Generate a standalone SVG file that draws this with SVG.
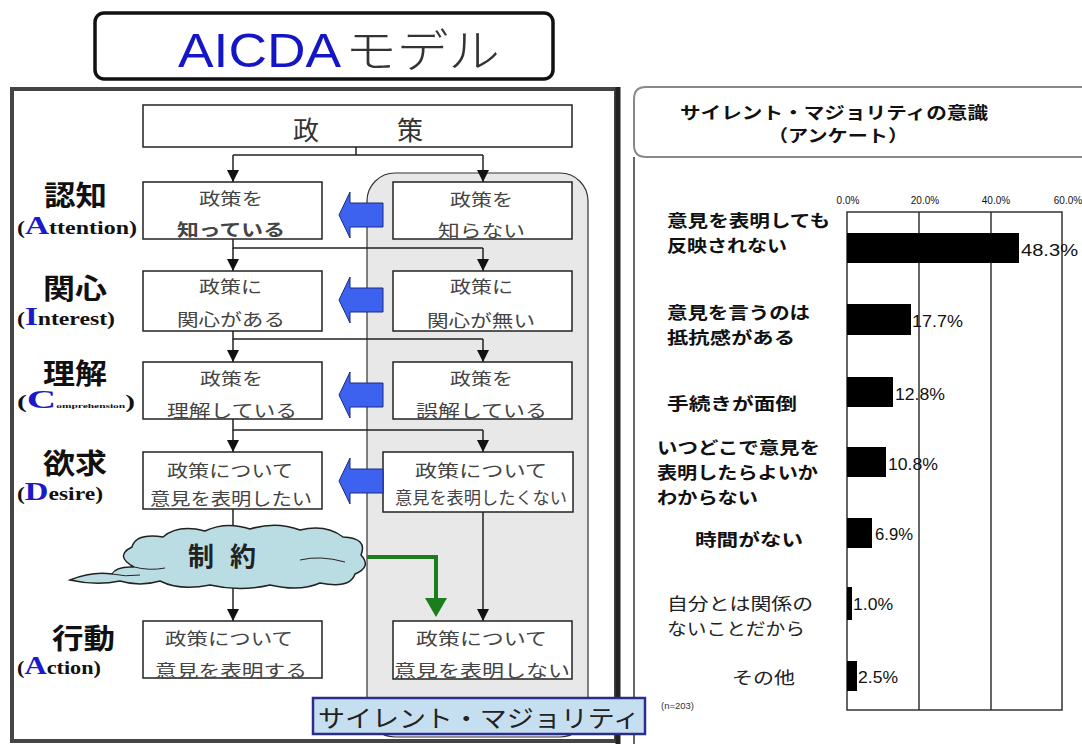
<svg xmlns="http://www.w3.org/2000/svg" width="1082" height="744" viewBox="0 0 1082 744">
<style>
.jp{font-family:"Noto Sans CJK JP",sans-serif}
.bx{fill:#fff;stroke:#222;stroke-width:1.5}
.bt{font-family:"Noto Sans CJK JP",sans-serif;font-size:17px;fill:#444}
.lbl{font-family:"Noto Sans CJK JP",sans-serif;font-size:28px;font-weight:bold;fill:#111}
.en{font-family:"Liberation Serif",serif;font-weight:bold;fill:#111}
.cap{fill:#1a1acc}
.ln{fill:none;stroke:#222;stroke-width:1.5}
.blu{fill:#3d62f0;stroke:#1a2a80;stroke-width:1}
.ct{font-family:"Noto Sans CJK JP",sans-serif;font-size:17px;font-weight:bold;fill:#111}
.cr{font-family:"Noto Sans CJK JP",sans-serif;font-size:17px;fill:#222}
.val{font-family:"Liberation Sans",sans-serif;font-size:17px;fill:#111}
.ax{font-family:"Liberation Sans",sans-serif;font-size:10px;fill:#111}
</style>
<defs>
<marker id="ah" viewBox="0 0 12 12" refX="12" refY="6" markerWidth="12" markerHeight="12" markerUnits="userSpaceOnUse" orient="auto">
<path d="M0,0 L12,6 L0,12 Z" fill="#111"/>
</marker>
</defs>
<rect width="1082" height="744" fill="#fff"/>

<g id="title">
<rect x="95" y="13" width="458" height="66" rx="9" fill="#fff" stroke="#111" stroke-width="3.5"/>
<text x="178" y="67" font-family="Liberation Sans, sans-serif" font-size="48" fill="#1515c8" textLength="163" lengthAdjust="spacingAndGlyphs">AICDA</text>
<text x="345" y="67" class="jp" font-size="46" font-weight="300" fill="#333" textLength="155" lengthAdjust="spacingAndGlyphs">モデル</text>
</g>

<g id="left-frame">
<rect x="12" y="89" width="604" height="652" fill="#fff" stroke="#444" stroke-width="4"/>
<line x1="618" y1="87" x2="618" y2="744" stroke="#222" stroke-width="5"/>
</g>

<g id="silent-panel">
<rect x="367" y="173" width="221" height="564" rx="28" fill="#e8e8e8" stroke="#333" stroke-width="1.2"/>
</g>

<g id="connectors">
<path class="ln" d="M356,147 V155 M233,155 H483"/>
<path class="ln" d="M233,155 V182" marker-end="url(#ah)"/>
<path class="ln" d="M483,155 V182" marker-end="url(#ah)"/>
<path class="ln" d="M233,239 V248 H483"/>
<path class="ln" d="M233,248 V271" marker-end="url(#ah)"/>
<path class="ln" d="M483,248 V271" marker-end="url(#ah)"/>
<path class="ln" d="M233,331 V339 H483"/>
<path class="ln" d="M233,339 V362" marker-end="url(#ah)"/>
<path class="ln" d="M483,339 V362" marker-end="url(#ah)"/>
<path class="ln" d="M233,419 V430 H483"/>
<path class="ln" d="M233,430 V452" marker-end="url(#ah)"/>
<path class="ln" d="M483,430 V452" marker-end="url(#ah)"/>
<path class="ln" d="M233,509 V621" marker-end="url(#ah)"/>
<path class="ln" d="M483,512 V621" marker-end="url(#ah)"/>
</g>

<g id="policy">
<rect class="bx" x="143" y="105" width="429" height="42"/>
<text x="293" y="140" class="jp" font-size="26" fill="#333">政</text>
<text x="397" y="140" class="jp" font-size="26" fill="#333">策</text>
</g>

<g id="row-attention">
<text x="44" y="206" class="lbl" textLength="63" lengthAdjust="spacingAndGlyphs">認知</text>
<text x="17" y="234" class="en" font-size="18" textLength="120" lengthAdjust="spacingAndGlyphs">(<tspan class="cap" font-size="25">A</tspan>ttention)</text>
<rect class="bx" x="143" y="182" width="179" height="57"/>
<text x="199" y="205" class="bt" textLength="64" lengthAdjust="spacingAndGlyphs">政策を</text>
<text x="177" y="236" class="bt" font-size="20" font-weight="bold" fill="#222" textLength="108" lengthAdjust="spacingAndGlyphs">知っている</text>
<rect class="bx" x="393" y="182" width="179" height="57"/>
<text x="450" y="206" class="bt" textLength="63" lengthAdjust="spacingAndGlyphs">政策を</text>
<text x="438" y="237" class="bt" textLength="87" lengthAdjust="spacingAndGlyphs">知らない</text>
</g>

<g id="row-interest">
<text x="43" y="299" class="lbl" textLength="64" lengthAdjust="spacingAndGlyphs">関心</text>
<text x="17" y="325" class="en" font-size="18" textLength="98" lengthAdjust="spacingAndGlyphs">(<tspan class="cap" font-size="25">I</tspan>nterest)</text>
<rect class="bx" x="143" y="271" width="179" height="60"/>
<text x="199" y="293" class="bt" textLength="63" lengthAdjust="spacingAndGlyphs">政策に</text>
<text x="177" y="326" class="bt" textLength="108" lengthAdjust="spacingAndGlyphs">関心がある</text>
<rect class="bx" x="393" y="271" width="179" height="60"/>
<text x="450" y="293" class="bt" textLength="63" lengthAdjust="spacingAndGlyphs">政策に</text>
<text x="427" y="327" class="bt" textLength="108" lengthAdjust="spacingAndGlyphs">関心が無い</text>
</g>

<g id="row-comprehension">
<text x="43" y="384" class="lbl" textLength="64" lengthAdjust="spacingAndGlyphs">理解</text>
<text x="17" y="408" class="en" font-size="18" textLength="118" lengthAdjust="spacingAndGlyphs">(<tspan class="cap" font-size="25">C</tspan><tspan font-size="7">omprehension</tspan>)</text>
<rect class="bx" x="143" y="362" width="179" height="57"/>
<text x="200" y="385" class="bt" textLength="63" lengthAdjust="spacingAndGlyphs">政策を</text>
<text x="167" y="417" class="bt" textLength="130" lengthAdjust="spacingAndGlyphs">理解している</text>
<rect class="bx" x="393" y="362" width="179" height="57"/>
<text x="450" y="385" class="bt" textLength="63" lengthAdjust="spacingAndGlyphs">政策を</text>
<text x="416" y="417" class="bt" textLength="131" lengthAdjust="spacingAndGlyphs">誤解している</text>
</g>

<g id="row-desire">
<text x="43" y="474" class="lbl" textLength="64" lengthAdjust="spacingAndGlyphs">欲求</text>
<text x="17" y="500" class="en" font-size="18" textLength="86" lengthAdjust="spacingAndGlyphs">(<tspan class="cap" font-size="25">D</tspan>esire)</text>
<rect class="bx" x="143" y="452" width="179" height="57"/>
<text x="167" y="477" class="bt" textLength="126" lengthAdjust="spacingAndGlyphs">政策について</text>
<text x="150" y="505" class="bt" textLength="162" lengthAdjust="spacingAndGlyphs">意見を表明したい</text>
<rect class="bx" x="383" y="452" width="190" height="60"/>
<text x="415" y="477" class="bt" textLength="132" lengthAdjust="spacingAndGlyphs">政策について</text>
<text x="395" y="504" class="bt" font-size="15" textLength="172" lengthAdjust="spacingAndGlyphs">意見を表明したくない</text>
</g>

<g id="blue-arrows">
<path class="blu" d="M339,215 L350,192 L350,203 L383,203 L383,227 L350,227 L350,238 Z"/>
<path class="blu" d="M339,300 L350,277 L350,288 L383,288 L383,312 L350,312 L350,323 Z"/>
<path class="blu" d="M339,395 L350,372 L350,383 L383,383 L383,407 L350,407 L350,418 Z"/>
<path class="blu" d="M339,481 L350,458 L350,469 L383,469 L383,493 L350,493 L350,504 Z"/>
</g>

<g id="constraint">
<path d="M70,580 Q92,571 112,574 Q116,566 134,567 Q114,556 132,547 Q136,533 163,537 Q178,524 205,531 Q226,521 250,529 Q276,521 300,530 Q326,524 343,537 Q368,538 361,555 Q372,567 355,574 Q350,589 320,583 Q300,592 270,585 Q240,592 210,585 Q180,591 160,581 Q140,587 120,581 Q96,586 70,580 Z" fill="#b9dde3" stroke="#222" stroke-width="1.5"/>
<path d="M134,567 Q150,571 165,568 M300,560 Q320,555 345,562 M112,574 Q125,577 140,575" fill="none" stroke="#222" stroke-width="1"/>
<text x="188" y="566" class="jp" font-size="26" font-weight="bold" fill="#222" textLength="68" lengthAdjust="spacing">制約</text>
</g>

<g id="green-arrow">
<path d="M367,557 H436 V600" fill="none" stroke="#1b7d1b" stroke-width="4"/>
<path d="M425,598 L447,598 L436,617 Z" fill="#1b7d1b"/>
</g>

<g id="row-action">
<text x="52" y="649" class="lbl" textLength="63" lengthAdjust="spacingAndGlyphs">行動</text>
<text x="17" y="674" class="en" font-size="18" textLength="84" lengthAdjust="spacingAndGlyphs">(<tspan class="cap" font-size="25">A</tspan>ction)</text>
<rect class="bx" x="143" y="621" width="179" height="57"/>
<text x="165" y="645" class="bt" textLength="128" lengthAdjust="spacingAndGlyphs">政策について</text>
<text x="155" y="677" class="bt" textLength="152" lengthAdjust="spacingAndGlyphs">意見を表明する</text>
<rect class="bx" x="393" y="621" width="179" height="58"/>
<text x="416" y="645" class="bt" textLength="131" lengthAdjust="spacingAndGlyphs">政策について</text>
<text x="394" y="677" class="bt" textLength="176" lengthAdjust="spacingAndGlyphs">意見を表明しない</text>
</g>

<g id="chart">
<path d="M646,87 H1095 V157 H646 Q634,157 634,145 V99 Q634,87 646,87 Z" fill="#fff" stroke="#888" stroke-width="2"/>
<text x="680" y="119" class="ct" textLength="308" lengthAdjust="spacingAndGlyphs">サイレント・マジョリティの意識</text>
<text x="768" y="142" class="ct" textLength="140" lengthAdjust="spacingAndGlyphs">（アンケート）</text>
<line x1="634" y1="157" x2="634" y2="744" stroke="#333" stroke-width="1.5"/>

<text x="848" y="204" class="ax" text-anchor="middle">0.0%</text>
<text x="925" y="204" class="ax" text-anchor="middle">20.0%</text>
<text x="996" y="204" class="ax" text-anchor="middle">40.0%</text>
<text x="1068" y="204" class="ax" text-anchor="middle">60.0%</text>
<rect x="847" y="212" width="215" height="498" fill="#fff" stroke="#333" stroke-width="1.5"/>
<line x1="919" y1="212" x2="919" y2="710" stroke="#333" stroke-width="1.5"/>
<line x1="991" y1="212" x2="991" y2="710" stroke="#333" stroke-width="1.5"/>

<rect x="847" y="233" width="172" height="30" fill="#000"/>
<rect x="847" y="304" width="64" height="31" fill="#000"/>
<rect x="847" y="377" width="46" height="30" fill="#000"/>
<rect x="847" y="447" width="39" height="30" fill="#000"/>
<rect x="847" y="518" width="25" height="30" fill="#000"/>
<rect x="847" y="587" width="5" height="33" fill="#000"/>
<rect x="847" y="661" width="10" height="30" fill="#000"/>

<text x="1021" y="256" class="val" textLength="57" lengthAdjust="spacingAndGlyphs">48.3%</text>
<text x="912" y="327" class="val" textLength="51" lengthAdjust="spacingAndGlyphs">17.7%</text>
<text x="895" y="400" class="val" textLength="50" lengthAdjust="spacingAndGlyphs">12.8%</text>
<text x="888" y="470" class="val" textLength="50" lengthAdjust="spacingAndGlyphs">10.8%</text>
<text x="875" y="540" class="val" textLength="38" lengthAdjust="spacingAndGlyphs">6.9%</text>
<text x="853" y="610" class="val" textLength="40" lengthAdjust="spacingAndGlyphs">1.0%</text>
<text x="858" y="683" class="val" textLength="40" lengthAdjust="spacingAndGlyphs">2.5%</text>

<text x="667" y="227" class="ct" textLength="163" lengthAdjust="spacingAndGlyphs">意見を表明しても</text>
<text x="667" y="252" class="ct" textLength="120" lengthAdjust="spacingAndGlyphs">反映されない</text>
<text x="667" y="319" class="ct" textLength="143" lengthAdjust="spacingAndGlyphs">意見を言うのは</text>
<text x="667" y="344" class="ct" textLength="128" lengthAdjust="spacingAndGlyphs">抵抗感がある</text>
<text x="667" y="410" class="ct" textLength="130" lengthAdjust="spacingAndGlyphs">手続きが面倒</text>
<text x="657" y="454" class="ct" textLength="163" lengthAdjust="spacingAndGlyphs">いつどこで意見を</text>
<text x="657" y="479" class="ct" textLength="161" lengthAdjust="spacingAndGlyphs">表明したらよいか</text>
<text x="657" y="504" class="ct" textLength="101" lengthAdjust="spacingAndGlyphs">わからない</text>
<text x="695" y="546" class="ct" textLength="108" lengthAdjust="spacingAndGlyphs">時間がない</text>
<text x="667" y="610" class="cr" textLength="146" lengthAdjust="spacingAndGlyphs">自分とは関係の</text>
<text x="667" y="635" class="cr" textLength="138" lengthAdjust="spacingAndGlyphs">ないことだから</text>
<text x="732" y="684" class="cr" textLength="63" lengthAdjust="spacingAndGlyphs">その他</text>
<text x="661" y="709" font-family="Liberation Sans, sans-serif" font-size="9.5" fill="#333">(n=203)</text>
</g>

<g id="silent-majority-label">
<rect x="313" y="698" width="332" height="36" fill="#c6dff0" stroke="#2c2c8c" stroke-width="2.5"/>
<text x="318" y="727" class="jp" font-size="24" fill="#222" textLength="322" lengthAdjust="spacingAndGlyphs">サイレント・マジョリティ</text>
</g>
</svg>
